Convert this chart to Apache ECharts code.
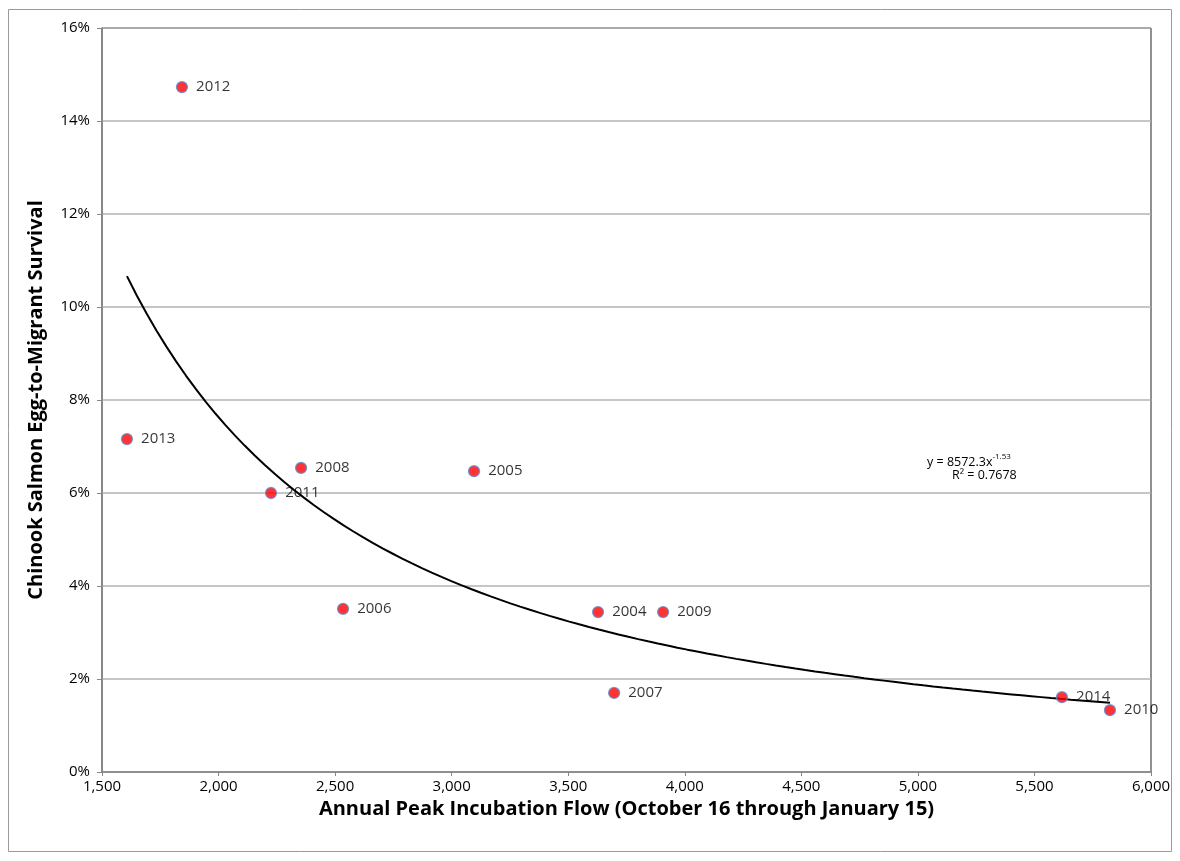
<!DOCTYPE html>
<html>
<head>
<meta charset="utf-8">
<script src="https://cdn.jsdelivr.net/npm/echarts@6/dist/echarts.min.js"></script>
<style>
html,body{margin:0;padding:0;background:#fff;}
#chart{width:1180px;height:861px;}
</style>
</head>
<body>
<div id="chart"></div>
<script>
// Data
const years = ['2012','2013','2008','2011','2005','2006','2004','2009','2007','2014','2010'];
const flows = [1843, 1607, 2354, 2225, 3096, 2534, 3628, 3907, 3697, 5618, 5824];
const survival = [0.1473, 0.0716, 0.0654, 0.0600, 0.0647, 0.0351, 0.0344, 0.0344, 0.0170, 0.0161, 0.0133];
// Trendline (power fit shown on chart)
const trendCoef = 8572.3;
const trendExp = -1.53;
const trendR2 = '0.7678';
const xTicks = [1500, 2000, 2500, 3000, 3500, 4000, 4500, 5000, 5500, 6000];
const yTicks = [0, 0.02, 0.04, 0.06, 0.08, 0.10, 0.12, 0.14, 0.16];

const font = '"Open Sans", Lato, "Liberation Sans", sans-serif';
const points = flows.map((f, i) => ({value: [f, survival[i]], name: years[i]}));

const xMin = Math.min(...flows), xMax = Math.max(...flows);
const trend = [];
for (let k = 0; k <= 100; k++) {
  const x = xMin + (xMax - xMin) * k / 100;
  trend.push([x, trendCoef * Math.pow(x, trendExp)]);
}

const chart = echarts.init(document.getElementById('chart'));
chart.setOption({
  animation: false,
  backgroundColor: '#fff',
  grid: {left: 102, right: 29, top: 28, bottom: 89, show: true, borderColor: '#222', borderWidth: 1},
  xAxis: {
    type: 'value', min: xTicks[0], max: xTicks[xTicks.length - 1], interval: 500,
    name: 'Annual Peak Incubation Flow (October 16 through January 15)',
    nameLocation: 'middle', nameGap: 23,
    nameTextStyle: {fontFamily: font, fontSize: 20, fontWeight: 'bold', color: '#000'},
    axisLine: {show: true, lineStyle: {color: '#868686', width: 1.5}},
    axisTick: {show: true, length: 4, lineStyle: {color: '#868686'}},
    axisLabel: {fontFamily: font, fontSize: 15, color: '#000', margin: 7,
      formatter: v => v.toLocaleString('en-US')},
    splitLine: {show: false}
  },
  yAxis: {
    type: 'value', min: yTicks[0], max: yTicks[yTicks.length - 1], interval: 0.02,
    name: 'Chinook Salmon Egg-to-Migrant Survival',
    nameLocation: 'middle', nameGap: 56,
    nameTextStyle: {fontFamily: font, fontSize: 20, fontWeight: 'bold', color: '#000'},
    axisLine: {show: true, lineStyle: {color: '#868686', width: 1.5}},
    axisTick: {show: true, length: 5, lineStyle: {color: '#868686'}},
    axisLabel: {fontFamily: font, fontSize: 15, color: '#000', margin: 12,
      formatter: v => Math.round(v * 100) + '%'},
    splitLine: {show: true, lineStyle: {color: '#b3b3b3', width: 1.5}}
  },
  series: [
    {
      type: 'line', data: trend, showSymbol: false, smooth: false,
      lineStyle: {color: '#000', width: 2}, z: 2, silent: true
    },
    {
      type: 'scatter', data: points, symbol: 'circle', symbolSize: 11,
      itemStyle: {color: '#ff0000', borderColor: '#5b8bd0', borderWidth: 1.3},
      label: {show: true, position: 'right', distance: 8, formatter: p => p.name,
        fontFamily: font, fontSize: 15, color: '#000'},
      z: 3
    }
  ],
  graphic: [
    {type: 'rect', shape: {x: 8.5, y: 9.5, width: 1163, height: 842}, style: {fill: 'none', stroke: '#9a9a9a', lineWidth: 1}, silent: true, z: -1},
    {type: 'text', left: 927, top: 453, style: {
      text: '{m|y = ' + trendCoef + 'x}{s|' + trendExp + '}',
      rich: {m: {fontFamily: font, fontSize: 12.5, color: '#000', verticalAlign: 'bottom'},
             s: {fontFamily: font, fontSize: 8, color: '#000', verticalAlign: 'top', padding: [0,0,8,0]}}
    }},
    {type: 'text', left: 952, top: 469, style: {
      text: 'R\u00b2 = ' + trendR2, fontFamily: font, fontSize: 12.5, fill: '#000'
    }}
  ]
});
</script>
</body>
</html>
